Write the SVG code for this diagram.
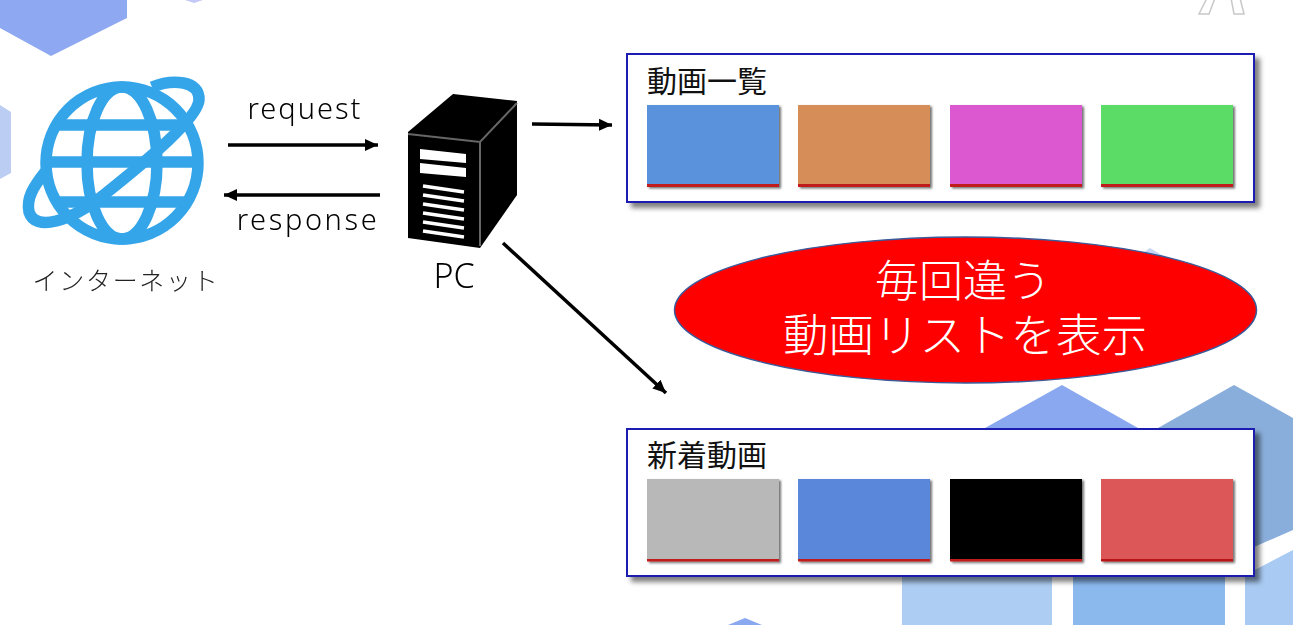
<svg xmlns="http://www.w3.org/2000/svg" width="1293" height="625" viewBox="0 0 1293 625">
<defs>
<filter id="sh" x="-5%" y="-5%" width="112%" height="115%"><feDropShadow dx="5" dy="5" stdDeviation="2.5" flood-color="#000" flood-opacity=".5"/></filter>
<filter id="sh2" x="-5%" y="-5%" width="110%" height="110%"><feDropShadow dx="2" dy="1.500" stdDeviation=".8" flood-color="#000" flood-opacity=".55"/></filter>
<filter id="soft" x="0" y="0" width="100%" height="100%"><feGaussianBlur stdDeviation=".6"/></filter>
<filter id="soft2" x="-5%" y="-5%" width="110%" height="110%"><feGaussianBlur stdDeviation=".4"/></filter>
<marker id="ah" markerUnits="userSpaceOnUse" markerWidth="15" markerHeight="14" refX="13" refY="7" orient="auto"><path d="M0 1L13 7L0 13Z" fill="#000"/></marker>
</defs>
<style>
text{font-family:"Noto Sans CJK JP","Liberation Sans",sans-serif;font-weight:300}
.lab{fill:#000;text-anchor:middle}
.en{font-family:"Noto Sans","Liberation Sans",sans-serif;font-size:29px}
.ttl{font-size:30px;fill:#111;font-weight:400}
.card{fill:#fff;stroke:#1a1ab0;stroke-width:2}
.line{fill:none;stroke:#000;stroke-width:3.500;marker-end:url(#ah)}
.g{fill:none;stroke:#36a5ea;stroke-width:11.500}
.big{fill:#fff;text-anchor:middle}
</style>
<rect width="1293" height="625" fill="#fff"/>
<g id="background" filter="url(#soft)">
<path d="M0 0H127V18L51 56L0 28Z" fill="#8ea8f2"/>
<path d="M185 0H203L194 3Z" fill="#c4c8f6"/>
<path d="M0 105L11 112V173L0 179Z" fill="#bccdf3"/>
<path d="M1140 255L1150 248L1170 260Z" fill="#c6d6f4"/>
<path d="M985 428L1062 385L1138 428Z" fill="#8aa8f0"/>
<path d="M1158 428L1234 385L1293 418V428Z" fill="#8aaedb"/>
<path d="M1254 428H1293V530L1254 547Z" fill="#8aaedb"/>
<path d="M902 575H1052V625H902Z" fill="#aecdf3"/>
<path d="M1073 575H1225V625H1073Z" fill="#8bb9ee"/>
<path d="M1245 575L1293 550V625H1245Z" fill="#a9caf2"/>
<path d="M728 625L745 618L762 625Z" fill="#8aa8f0"/>
<path d="M1199 14L1207 -2H1215L1209 14ZM1234 14L1231 -2H1240L1244 14Z" fill="#fff" stroke="#c8c8c8" stroke-width="1.500"/>
</g>
<g id="connectors" filter="url(#soft2)">
<line class="line" x1="228" y1="145" x2="378" y2="145"/>
<line class="line" x1="380" y1="195" x2="224" y2="195"/>
<line class="line" x1="532" y1="124" x2="612" y2="125"/>
<line class="line" x1="503" y1="243" x2="666" y2="393"/>
</g>
<g id="internet" filter="url(#soft2)">
<ellipse class="g" cx="122" cy="163" rx="76" ry="76"/>
<ellipse class="g" cx="122" cy="163" rx="35" ry="76"/>
<path class="g" d="M56 125H188M46 162H198M57 202H187"/>
<path class="g" stroke-width="10" d="M152 87C172 79 200 80 199 100C198 118 150 158 105 194C70 222 35 232 29 212C26 198 34 186 45 172"/>
<text class="lab" x="126" y="290" style="font-size:25px;letter-spacing:1.700px;fill:#222">インターネット</text>
</g>
<g id="pc" filter="url(#soft2)">
<path d="M408 132L453 94L517 101L517 195L480 248L408 238Z" fill="#000"/>
<path d="M408 134L480 142L517 103M480 142V246" fill="none" stroke="#666" stroke-width="2"/>
<path d="M420 149L466 154V163L420 159ZM420 163L466 168V177L420 173Z" fill="#fff"/>
<path d="M423 186L464 192M423 195L464 201M423 204L464 210M423 213L464 219M423 222L464 228M423 231L464 237" stroke="#fff" stroke-width="3.500"/>
<text class="lab en" x="454" y="288" style="font-size:34px">PC</text>
</g>
<g id="request" filter="url(#soft2)"><text class="lab en" x="305" y="119" style="letter-spacing:2px">request</text></g>
<g id="response" filter="url(#soft2)"><text class="lab en" x="308" y="230" style="letter-spacing:2.600px">response</text></g>
<g id="list">
<rect class="card" filter="url(#sh)" x="627" y="54" width="627" height="148"/>
<text class="ttl" x="647" y="92">動画一覧</text>
<g filter="url(#sh2)">
<rect x="647" y="105" width="132" height="80" fill="#5a93db"/><rect x="647" y="184" width="132" height="3" fill="#c01f1f"/>
<rect x="798" y="105" width="132" height="80" fill="#d68d58"/><rect x="798" y="184" width="132" height="3" fill="#c01f1f"/>
<rect x="950" y="105" width="132" height="80" fill="#dc58d0"/><rect x="950" y="184" width="132" height="3" fill="#c01f1f"/>
<rect x="1101" y="105" width="132" height="80" fill="#5adc66"/><rect x="1101" y="184" width="132" height="3" fill="#c01f1f"/>
</g>
</g>
<g id="new">
<rect class="card" filter="url(#sh)" x="627" y="429" width="627" height="147"/>
<text class="ttl" x="647" y="466">新着動画</text>
<g filter="url(#sh2)">
<rect x="647" y="479" width="132" height="80" fill="#b8b8b8"/><rect x="647" y="559" width="132" height="2.500" fill="#c01f1f"/>
<rect x="798" y="479" width="132" height="80" fill="#5a87da"/><rect x="798" y="559" width="132" height="2.500" fill="#c01f1f"/>
<rect x="950" y="479" width="132" height="80" fill="#000"/><rect x="950" y="559" width="132" height="2.500" fill="#c01f1f"/>
<rect x="1101" y="479" width="132" height="80" fill="#dc5858"/><rect x="1101" y="559" width="132" height="2.500" fill="#b81818"/>
</g>
</g>
<g id="callout">
<ellipse cx="965.500" cy="310" rx="291" ry="73" fill="#f00" stroke="#3a5a9a" stroke-width="1.500"/>
<text class="big" x="963" y="297" style="font-size:44px">毎回違う</text>
<text class="big" x="965" y="352" style="font-size:45.500px">動画リストを表示</text>
</g>
</svg>
